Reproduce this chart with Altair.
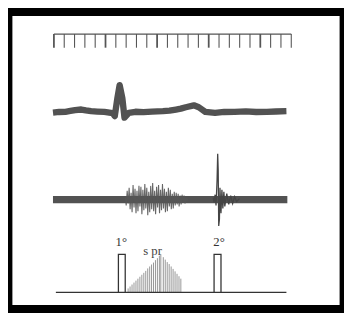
import altair as alt
import pandas as pd

# ---------------- data (time in ms, amplitudes in arbitrary units) ----------------
tick_t = [0, 10, 20, 30, 40, 50, 60, 70, 80, 90, 100, 110, 120, 130, 140, 150,
          160, 170, 180, 190, 200, 210, 220, 230]

trace1_t = [-0.9, 5.0, 11.1, 16.0, 20.5, 26.5, 31.0, 36.0, 42.0, 48.9, 56.8, 59.0, 61.5, 63.7, 66.3, 68.4,
            72.6, 79.0, 86.8, 95.0, 105.7, 112.0, 118.3, 123.0, 127.8, 135.6, 140.4, 146.7, 156.2,
            165.0, 175.1, 186.0, 196.0, 206.3, 215.0, 225.3]
trace1_v = [-0.5, 0.2, 0.3, 1.2, 2.0, 2.7, 1.8, 1.0, 0.6, 0.3, -1.0, -4.0, 14.3, 27.7, 14.3, -5.5,
            -0.7, 0.4, 0.0, 0.6, 1.0, 1.6, 2.7, 3.6, 5.0, 7.0, 5.0, 0.3, -0.7,
            0.2, 0.3, 0.8, 0.2, 0.3, 0.7, 1.0]

trace2_span = [-0.9, 226.2]
burst_t0 = 69.1
burst_dt = 0.95
burst_v = [3, -6, 9, -4, 12, -10, 7, -13, 15, -8, 11, -14, 9, -12, 14, -7, 13, -15,
           10, -11, 16, -9, 12, -16, 8, -13, 14, -10, 17, -12, 9, -15, 13, -8, 15,
           -14, 10, -11, 16, -9, 11, -13, 8, -12, 12, -7, 10, -10, 6, -9, 8, -6, 7,
           -5, 6, -7, 4, -5, 5, -3, 4, -4, 3, -2, 2]
spike_t = [154.3, 155.2, 156.2, 157.1, 158.1, 158.7, 159.2, 159.7, 160.4, 160.9,
           161.9, 162.8, 163.7, 164.7, 165.6, 167.5, 169.4, 171.3, 173.2, 175.1, 177.0, 179.8]
spike_v = [2, -3, 5, -6, 20, 47, 30, -27, -20, 12, -14, 10, -9, 8, -7, 6, -5, 4, -4, 3, -2, 1]

stim_span = [1.9, 225.3]
pulse_start = [62.5, 155.2]
pulse_end = [69.1, 161.9]
pulse_h = [39, 39]
pulse_label = ["1°", "2°"]
pulse_label_t = [65.3, 160.0]

hatch_t = [71.9, 73.8, 75.7, 77.6, 79.5, 81.4, 83.3, 85.2, 87.1, 89.0, 90.9, 92.8,
           94.6, 96.5, 98.4, 100.3, 102.2, 103.6, 106.0, 107.9, 109.8, 111.7, 113.6,
           115.5, 117.4, 119.3, 121.2, 123.0]
hatch_h = [4, 6, 8, 10, 12, 14, 16, 18, 20, 22, 24.5, 26.5, 28.5, 30.5, 33, 35, 37.5,
           39, 36, 33.5, 31, 29, 26.5, 24, 21.5, 19, 16.5, 14]
ramp_label = "s pr"
ramp_label_t = 95.6

# ---------------- layout ----------------
W, H = 344, 305
TIME_Y, TICK_LEN = 282, 14
TRACE1_Y = 202
TRACE2_Y = 112.5
STIM_Y = 17.5

xs = alt.Scale(domain=[-44.49, 281.1], nice=False, zero=False)
ys = alt.Scale(domain=[0, H], nice=False, zero=False)
X = lambda f: alt.X(f, type="quantitative", scale=xs, axis=None)
Y = lambda f: alt.Y(f, type="quantitative", scale=ys, axis=None)

ink = "#525252"

ticks = pd.DataFrame({"t": tick_t, "major": [i % 5 == 0 for i in range(len(tick_t))]})
ticks["y"] = TIME_Y
ticks["y2"] = TIME_Y - TICK_LEN
tick_layer = alt.Chart(ticks).mark_rule(color="#555").encode(
    x=X("t"), y=Y("y"), y2="y2",
    strokeWidth=alt.condition("datum.major", alt.value(1.8), alt.value(1.1)))
tick_line = alt.Chart(pd.DataFrame({"a": [min(tick_t)], "b": [max(tick_t)], "y": [TIME_Y]})).mark_rule(
    color="#555", strokeWidth=1.3).encode(x=X("a"), x2="b", y=Y("y"))

t1 = pd.DataFrame({"t": trace1_t, "y": [v + TRACE1_Y for v in trace1_v]})
trace1 = alt.Chart(t1).mark_line(color=ink, strokeWidth=6.5, strokeJoin="round").encode(
    x=X("t"), y=Y("y"))

base2 = alt.Chart(pd.DataFrame({"a": [trace2_span[0]], "b": [trace2_span[1]], "y": [TRACE2_Y]})).mark_rule(
    color=ink, strokeWidth=7.5).encode(x=X("a"), x2="b", y=Y("y"))
bdf = pd.DataFrame({"t": [burst_t0 + i * burst_dt for i in range(len(burst_v))],
                    "y": [v + TRACE2_Y for v in burst_v]})
burst = alt.Chart(bdf).mark_line(color="#555", strokeWidth=1.1, opacity=0.9).encode(x=X("t"), y=Y("y"))
sdf = pd.DataFrame({"t": spike_t, "y": [v + TRACE2_Y for v in spike_v]})
spike = alt.Chart(sdf).mark_line(color="#444", strokeWidth=1.3).encode(x=X("t"), y=Y("y"))

stim_base = alt.Chart(pd.DataFrame({"a": [stim_span[0]], "b": [stim_span[1]], "y": [STIM_Y]})).mark_rule(
    color="#333", strokeWidth=1.3).encode(x=X("a"), x2="b", y=Y("y"))
pdf = pd.DataFrame({"a": pulse_start, "b": pulse_end, "y": [STIM_Y] * 2,
                    "y2": [STIM_Y + h for h in pulse_h], "lab": pulse_label,
                    "lt": pulse_label_t, "ly": [STIM_Y + h + 8 for h in pulse_h]})
pulses = alt.Chart(pdf).mark_rect(fill="white", stroke="#333", strokeWidth=1.3).encode(
    x=X("a"), x2="b", y=Y("y"), y2="y2")
pulse_text = alt.Chart(pdf).mark_text(font="Liberation Serif", fontSize=13, color="#333",
                                      baseline="alphabetic", align="center").encode(
    x=X("lt"), y=Y("ly"), text="lab:N")
hdf = pd.DataFrame({"t": hatch_t, "y": [STIM_Y] * len(hatch_t), "y2": [STIM_Y + h for h in hatch_h]})
hatch = alt.Chart(hdf).mark_rule(color="#8a8a8a", strokeWidth=0.9).encode(x=X("t"), y=Y("y"), y2="y2")
ramp_text = alt.Chart(pd.DataFrame({"t": [ramp_label_t], "y": [STIM_Y + max(hatch_h) - 1], "lab": [ramp_label]})).mark_text(
    font="Liberation Serif", fontSize=13, color="#444", baseline="alphabetic", align="center").encode(
    x=X("t"), y=Y("y"), text="lab:N")

chart = alt.layer(tick_line, tick_layer, trace1, base2, burst, spike, hatch, stim_base, pulses,
                  pulse_text, ramp_text).properties(
    width=W, height=H, autosize=alt.AutoSizeParams(type="none"), padding=0,
    background="white").configure_view(stroke="black", strokeWidth=9)

chart.save("out.html", embed_options={"renderer": "svg", "actions": False})
